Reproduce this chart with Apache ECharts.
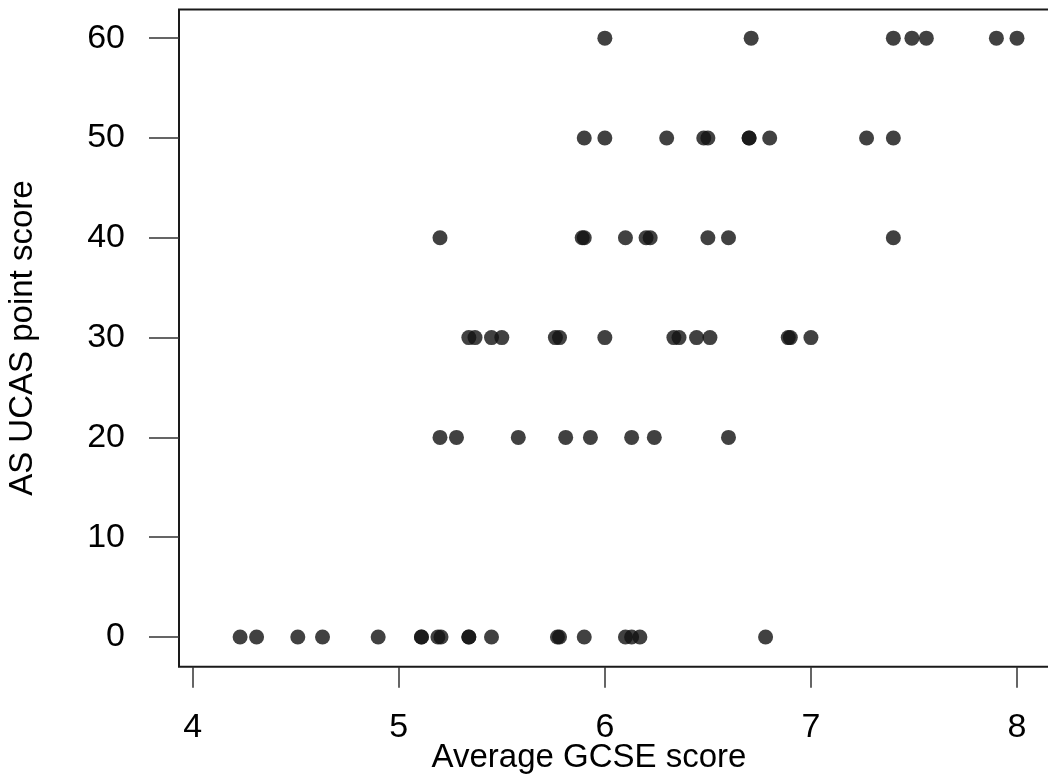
<!DOCTYPE html>
<html>
<head>
<meta charset="utf-8">
<title>AS UCAS point score vs Average GCSE score</title>
<script src="https://cdn.jsdelivr.net/npm/echarts@6/dist/echarts.min.js"></script>
<style>
  html, body { margin: 0; padding: 0; background: #fff; }
  #main { width: 1048px; height: 780px; }
</style>
</head>
<body>
<div id="main"></div>
<script>
// average GCSE score of each student, grouped by the AS UCAS points they got
var gcse60 = [6.00, 6.71, 7.40, 7.49, 7.56, 7.90, 8.00]
var gcse50 = [5.90, 6.00, 6.30, 6.48, 6.50, 6.70, 6.70, 6.80, 7.27, 7.40]
var gcse40 = [5.20, 5.89, 5.90, 6.10, 6.20, 6.22, 6.50, 6.60, 7.40]
var gcse30 = [5.34, 5.37, 5.45, 5.50, 5.76, 5.78, 6.00, 6.335, 6.36, 6.445, 6.51, 6.89, 6.90, 7.00]
var gcse20 = [5.20, 5.28, 5.58, 5.81, 5.93, 6.13, 6.24, 6.60]
var gcse0 = [4.23, 4.31, 4.51, 4.63, 4.90, 5.11, 5.11, 5.19, 5.205, 5.34, 5.34, 5.45, 5.77, 5.78, 5.90, 6.10, 6.13, 6.17, 6.78]

var ucasLevels = [60, 50, 40, 30, 20, 0]
var xTicks = [4, 5, 6, 7, 8]
var yTicks = [0, 10, 20, 30, 40, 50, 60]

var groups = [gcse60, gcse50, gcse40, gcse30, gcse20, gcse0]
var points = []
for (var i = 0; i < groups.length; i++) {
  for (var j = 0; j < groups[i].length; j++) {
    points.push([groups[i][j], ucasLevels[i]])
  }
}

var font = '"Liberation Sans", Arial, sans-serif'

var chartDom = document.getElementById('main')
var myChart = echarts.init(chartDom)
var option = {
  animation: false,
  backgroundColor: '#fff',
  grid: {
    left: 179,
    top: 9.5,
    right: -3,
    bottom: 113.3,
    outerBoundsMode: 'none',
    show: true,
    borderColor: '#1a1a1a',
    borderWidth: 2,
    backgroundColor: 'transparent'
  },
  xAxis: {
    type: 'value',
    min: 3.9335,
    max: 8.165,
    name: 'Average GCSE score',
    nameLocation: 'middle',
    nameGap: 75,
    nameMoveOverlap: false,
    nameTextStyle: {
      fontFamily: font,
      fontSize: 33,
      color: '#000',
      padding: [0, 52, 0, 0]
    },
    axisLine: { show: false, onZero: false },
    splitLine: { show: false },
    axisTick: {
      show: true,
      length: 21,
      customValues: xTicks,
      lineStyle: { color: '#333', width: 1.5 }
    },
    axisLabel: {
      customValues: xTicks,
      margin: 44,
      fontFamily: font,
      fontSize: 34,
      color: '#000'
    }
  },
  yAxis: {
    type: 'value',
    min: -2.97,
    max: 62.87,
    name: 'AS UCAS point score',
    nameLocation: 'middle',
    nameGap: 140,
    nameMoveOverlap: false,
    nameTextStyle: {
      fontFamily: font,
      fontSize: 33,
      color: '#000'
    },
    axisLine: { show: false, onZero: false },
    splitLine: { show: false },
    axisTick: {
      show: true,
      length: 30,
      customValues: yTicks,
      lineStyle: { color: '#333', width: 1.5 }
    },
    axisLabel: {
      customValues: yTicks,
      margin: 54,
      fontFamily: font,
      fontSize: 34,
      color: '#000'
    }
  },
  series: [
    {
      type: 'scatter',
      symbol: 'circle',
      symbolSize: 15,
      data: points,
      itemStyle: {
        color: '#111',
        opacity: 0.8
      }
    }
  ]
}
option && myChart.setOption(option)
</script>
</body>
</html>
